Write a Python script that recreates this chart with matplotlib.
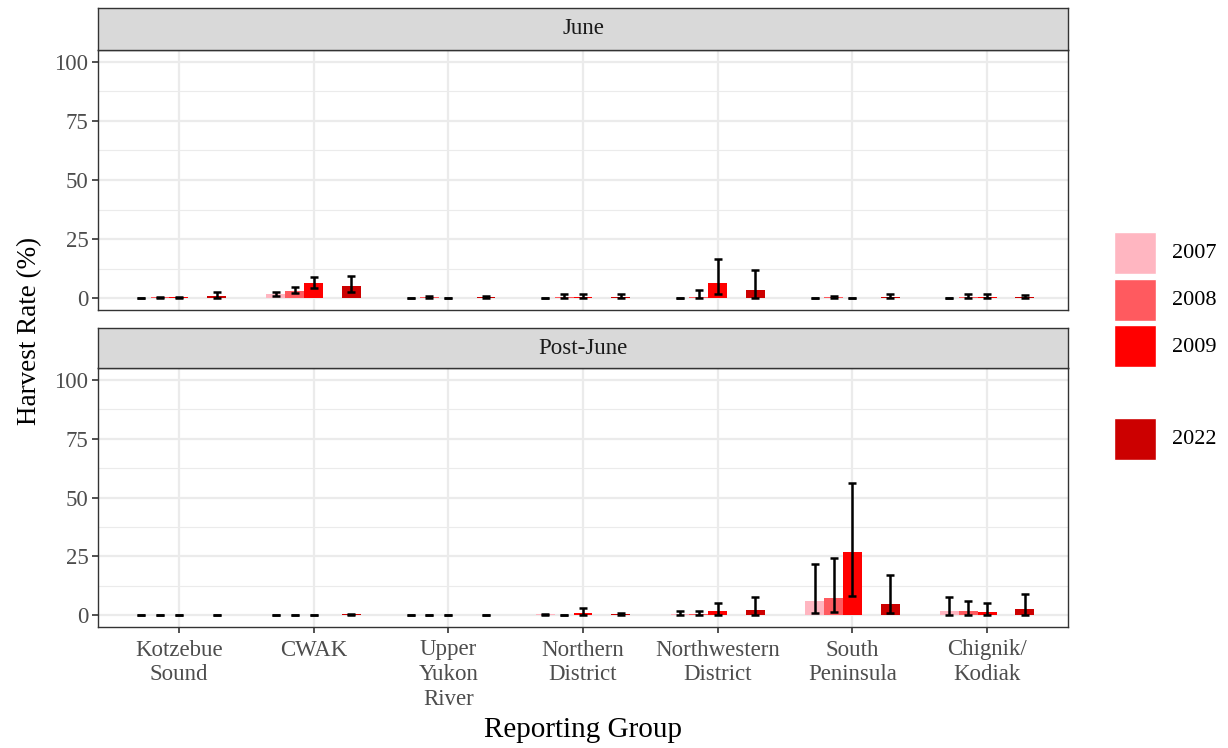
"""Harvest rate by reporting group, June vs Post-June, faceted bar chart."""

import matplotlib

matplotlib.use("Agg")
import matplotlib.pyplot as plt
from matplotlib.patches import Rectangle
import numpy as np

plt.rcParams["font.family"] = ["Liberation Serif", "DejaVu Serif"]

GROUPS = ["Kotzebue\nSound", "CWAK", "Upper\nYukon\nRiver", "Northern\nDistrict",
          "Northwestern\nDistrict", "South\nPeninsula", "Chignik/\nKodiak"]
YEARS = ["2007", "2008", "2009", "", "2022"]
COLORS = ["#FFB6C1", "#FF5A5F", "#FF0000", None, "#CC0000"]
PANELS = ["June", "Post-June"]

# estimates per panel, per year (rows), per group (cols); None for the empty slot
june_est = [
    [0.0, 1.8, 0.0, 0.0, 0.0, 0.0, 0.1],
    [0.3, 3.1, 0.5, 0.5, 0.5, 0.5, 0.5],
    [0.3, 6.5, 0.1, 0.5, 6.3, 0.2, 0.5],
    None,
    [1.1, 5.2, 0.5, 0.5, 3.4, 0.5, 0.5],
]
june_lo = [
    [0.0, 0.9, 0.0, 0.0, 0.0, 0.0, 0.0],
    [0.0, 2.0, 0.2, 0.0, 0.0, 0.0, 0.0],
    [0.0, 4.3, 0.0, 0.0, 1.6, 0.0, 0.0],
    None,
    [0.0, 2.7, 0.0, 0.0, 0.0, 0.0, 0.0],
]
june_hi = [
    [0.0, 2.8, 0.0, 0.0, 0.0, 0.0, 0.1],
    [0.5, 4.8, 0.8, 1.8, 3.4, 1.0, 1.6],
    [0.5, 9.1, 0.1, 1.8, 16.7, 0.2, 1.6],
    None,
    [2.7, 9.2, 1.1, 1.8, 11.8, 1.8, 1.3],
]

post_est = [
    [0.0, 0.0, 0.0, 0.4, 0.5, 6.1, 1.7],
    [0.0, 0.0, 0.0, 0.2, 0.5, 7.5, 1.7],
    [0.2, 0.2, 0.0, 0.8, 1.7, 26.7, 1.3],
    None,
    [0.0, 0.4, 0.0, 0.5, 2.1, 4.8, 2.5],
]
post_lo = [
    [0.0, 0.0, 0.0, 0.0, 0.0, 1.1, 0.0],
    [0.0, 0.0, 0.0, 0.0, 0.0, 1.4, 0.0],
    [0.0, 0.0, 0.0, 0.0, 0.0, 8.1, 0.0],
    None,
    [0.0, 0.0, 0.0, 0.0, 0.0, 1.1, 0.0],
]
post_hi = [
    [0.0, 0.0, 0.0, 0.4, 1.8, 21.7, 7.8],
    [0.0, 0.0, 0.0, 0.2, 2.0, 24.4, 6.0],
    [0.2, 0.2, 0.0, 3.1, 5.2, 56.2, 5.1],
    None,
    [0.0, 0.6, 0.0, 1.0, 7.8, 17.1, 9.0],
]

SLOT_W = 0.14
GRID_C = "#EBEBEB"
BORDER_C = "#333333"
TICK_C = "#4D4D4D"

fig = plt.figure(figsize=(12.28, 7.48), dpi=100)

W, H = 1228, 748
left, right = 98 / W, 1068 / W
panel_px = [(50, 310, 8), (368, 627, 328)]  # top, bottom, strip top (pixels)

data = [(june_est, june_lo, june_hi), (post_est, post_lo, post_hi)]
x = np.arange(1, len(GROUPS) + 1)

for i, (name, (top, bot, strip_top)) in enumerate(zip(PANELS, panel_px)):
    ax = fig.add_axes([left, 1 - bot / H, right - left, (bot - top) / H])
    est, lo, hi = data[i]
    for j, year in enumerate(YEARS):
        if est[j] is None:
            continue
        xs = x + (j - 2) * SLOT_W
        ax.bar(xs, est[j], width=SLOT_W, color=COLORS[j], zorder=3, linewidth=0)
        e = np.array(est[j])
        yerr = [e - np.array(lo[j]), np.array(hi[j]) - e]
        ax.errorbar(xs, e, yerr=yerr, fmt="none", ecolor="black", elinewidth=1.8,
                    capsize=3, capthick=1.8, zorder=4)

    ax.set_xlim(0.4, len(GROUPS) + 0.6)
    ax.set_ylim(-5, 105)
    ax.set_yticks([0, 25, 50, 75, 100])
    ax.set_yticks([12.5, 37.5, 62.5, 87.5], minor=True)
    ax.set_xticks(x)
    ax.grid(True, which="major", color=GRID_C, linewidth=1.6, zorder=0)
    ax.grid(True, which="minor", axis="y", color=GRID_C, linewidth=0.8, zorder=0)
    ax.tick_params(axis="both", which="major", length=4, color=BORDER_C,
                   labelcolor=TICK_C, labelsize=16.5, width=1.2, pad=3)
    ax.tick_params(axis="x", pad=5)
    ax.tick_params(axis="both", which="minor", length=0)
    for s in ax.spines.values():
        s.set_color(BORDER_C)
        s.set_linewidth(1)
    if i == 0:
        ax.set_xticklabels([])
        ax.tick_params(axis="x", length=0)
    else:
        ax.set_xticklabels(GROUPS, linespacing=1.22)
    ax.set_axisbelow(True)

    sax = fig.add_axes([left, 1 - top / H, right - left, (top - strip_top) / H])
    sax.set_facecolor("#D9D9D9")
    sax.set_xticks([])
    sax.set_yticks([])
    for s in sax.spines.values():
        s.set_color(BORDER_C)
        s.set_linewidth(1)
    sax.text(0.5, 0.5, name, ha="center", va="center", fontsize=16.5, color="#1A1A1A",
             transform=sax.transAxes)

fig.text(30 / W, 1 - 331 / H, "Harvest Rate (%)", rotation=90, ha="center",
         va="center", fontsize=19.5)
fig.text(583 / W, 1 - 730 / H, "Reporting Group", ha="center", va="center",
         fontsize=21)

# legend
lax = fig.add_axes([1110 / W, 1 - 462 / H, 118 / W, 232 / H])
lax.set_xlim(0, 118)
lax.set_ylim(232, 0)
lax.axis("off")
for j, year in enumerate(YEARS):
    y0 = 2 + j * 46.5
    if COLORS[j] is not None:
        lax.add_patch(Rectangle((4, y0), 42, 42, facecolor=COLORS[j],
                                edgecolor="white", linewidth=1))
    lax.text(62, y0 + 22, year, ha="left", va="center", fontsize=16)

fig.savefig("out.png", dpi=100)
